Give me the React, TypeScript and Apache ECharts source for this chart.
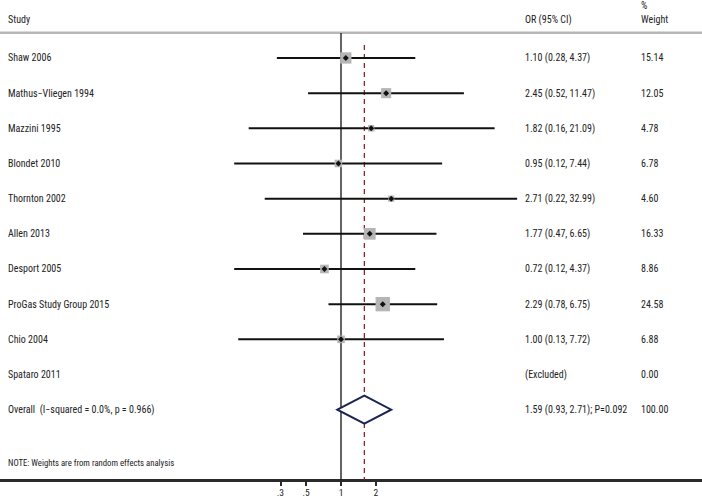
import React, { useEffect, useRef } from 'react';
import * as echarts from 'echarts';

const studies = [
  'Shaw 2006',
  'Mathus\u2212Vliegen 1994',
  'Mazzini 1995',
  'Blondet 2010',
  'Thornton 2002',
  'Allen 2013',
  'Desport 2005',
  'ProGas Study Group 2015',
  'Chio 2004',
  'Spataro 2011',
];
const oddsRatios: (number | null)[] = [1.1, 2.45, 1.82, 0.95, 2.71, 1.77, 0.72, 2.29, 1.0, null];
const lowerCI: (number | null)[] = [0.28, 0.52, 0.16, 0.12, 0.22, 0.47, 0.12, 0.78, 0.13, null];
const upperCI: (number | null)[] = [4.37, 11.47, 21.09, 7.44, 32.99, 6.65, 4.37, 6.75, 7.72, null];
const weights = [15.14, 12.05, 4.78, 6.78, 4.6, 16.33, 8.86, 24.58, 6.88, 0.0];

const overallLabel = 'Overall  (I\u2212squared = 0.0%, p = 0.966)';
const overallOR = 1.59;
const overallLo = 0.93;
const overallHi = 2.71;
const overallP = '0.092';
const overallWeight = 100.0;

const tickValues = [0.3, 0.5, 1, 2];
const tickLabels = ['.3', '.5', '1', '2'];

const noteText = 'NOTE: Weights are from random effects analysis';

const L = (v: number) => Math.log10(v);

export default function App() {
  const ref = useRef<HTMLDivElement>(null);

  useEffect(() => {
    const chart = echarts.init(ref.current!, null, { renderer: 'svg' });
    const FONT = "'Liberation Sans Narrow', 'Roboto Condensed', 'Liberation Sans', sans-serif";
    const TXT = '#222';
    const FS = 10;
    const XMIN = -341 / 116;
    const XMAX = 361 / 116;

    const ciData: number[][] = [];
    studies.forEach((_, i) => {
      const o = oddsRatios[i];
      const lo = lowerCI[i];
      const hi = upperCI[i];
      if (o != null && lo != null && hi != null) {
        ciData.push([i, L(lo), L(o), L(hi), weights[i]]);
      }
    });

    const overallRow = studies.length;

    const tableRows: { y: number; a: string; b: string; c: string }[] = studies.map((s, i) => {
      const o = oddsRatios[i];
      const lo = lowerCI[i];
      const hi = upperCI[i];
      const b = o != null && lo != null && hi != null
        ? `${o.toFixed(2)} (${lo.toFixed(2)}, ${hi.toFixed(2)})`
        : '(Excluded)';
      return { y: i, a: s, b, c: weights[i].toFixed(2) };
    });
    tableRows.push({
      y: overallRow,
      a: overallLabel,
      b: `${overallOR.toFixed(2)} (${overallLo.toFixed(2)}, ${overallHi.toFixed(2)}); P=${overallP}`,
      c: overallWeight.toFixed(2),
    });

    const tickLogs = tickValues.map(L);
    const fmt = (v: number) => {
      const idx = tickLogs.findIndex((t) => Math.abs(t - v) < 1e-6);
      return idx >= 0 ? tickLabels[idx] : '';
    };

    const option: any = {
      animation: false,
      backgroundColor: '#fff',
      grid: { left: 0, right: 0, top: 33, bottom: 21, containLabel: false },
      xAxis: {
        type: 'value',
        min: XMIN,
        max: XMAX,
        position: 'bottom',
        axisLine: { show: true, onZero: false, lineStyle: { color: '#2a2a2a', width: 3 } },
        axisTick: { show: true, customValues: tickLogs, length: 6, lineStyle: { color: '#2a2a2a', width: 2 } },
        axisLabel: { show: true, customValues: tickLogs, formatter: fmt, fontSize: 9.5, color: TXT, fontFamily: FONT, margin: 7 },
        splitLine: { show: false },
      },
      yAxis: {
        type: 'value',
        inverse: true,
        min: -0.71,
        max: 12,
        axisLine: { show: false },
        axisTick: { show: false },
        axisLabel: { show: false },
        splitLine: { show: false },
      },
      graphic: [
        { type: 'rect', shape: { x: 0, y: 31.5, width: 702, height: 2.5 }, style: { fill: '#b8b8b8' } },
        { type: 'text', left: 8, top: 14, style: { text: 'Study', fontSize: FS, fill: TXT, fontFamily: FONT } },
        { type: 'text', left: 525, top: 14, style: { text: 'OR (95% CI)', fontSize: FS, fill: TXT, fontFamily: FONT } },
        { type: 'text', left: 641, top: 0, style: { text: '%', fontSize: FS, fill: TXT, fontFamily: FONT } },
        { type: 'text', left: 641, top: 14, style: { text: 'Weight', fontSize: FS, fill: TXT, fontFamily: FONT } },
        { type: 'text', left: 8, top: 458, style: { text: noteText, fontSize: 8.7, fill: TXT, fontFamily: FONT } },
      ],
      series: [
        {
          type: 'line',
          name: 'null',
          data: [[0, -0.71], [0, 12]],
          symbol: 'none',
          lineStyle: { color: '#111', width: 1.3 },
          z: 1,
        },
        {
          type: 'line',
          name: 'pooled',
          data: [[L(overallOR), -0.37], [L(overallOR), 12]],
          symbol: 'none',
          lineStyle: { color: '#8b2232', width: 1.3, type: [5, 4] },
          z: 2,
        },
        {
          type: 'custom',
          name: 'ci',
          data: ciData,
          encode: { x: [1, 2, 3], y: 0 },
          z: 3,
          renderItem: (params: any, api: any) => {
            const row = api.value(0);
            const pLo = api.coord([api.value(1), row]);
            const pOr = api.coord([api.value(2), row]);
            const pHi = api.coord([api.value(3), row]);
            const s = 2.9 * Math.sqrt(api.value(4));
            const d = 3;
            return {
              type: 'group',
              children: [
                { type: 'line', shape: { x1: pLo[0], y1: pLo[1], x2: pHi[0], y2: pHi[1] }, style: { stroke: '#111', lineWidth: 2 } },
                { type: 'rect', shape: { x: pOr[0] - s / 2, y: pOr[1] - s / 2, width: s, height: s }, style: { fill: '#b5b5b5' } },
                {
                  type: 'polygon',
                  shape: { points: [[pOr[0] - d, pOr[1]], [pOr[0], pOr[1] - d], [pOr[0] + d, pOr[1]], [pOr[0], pOr[1] + d]] },
                  style: { fill: '#111' },
                },
              ],
            };
          },
        },
        {
          type: 'custom',
          name: 'overall',
          data: [[overallRow, L(overallLo), L(overallOR), L(overallHi)]],
          encode: { x: [1, 2, 3], y: 0 },
          z: 4,
          renderItem: (params: any, api: any) => {
            const row = api.value(0);
            const a = api.coord([api.value(1), row]);
            const top = api.coord([api.value(2), row - 0.4]);
            const b = api.coord([api.value(3), row]);
            const bot = api.coord([api.value(2), row + 0.4]);
            return {
              type: 'polygon',
              shape: { points: [a, top, b, bot] },
              style: { fill: '#fff', stroke: '#1b2452', lineWidth: 2 },
            };
          },
        },
        {
          type: 'custom',
          name: 'table',
          data: tableRows.map((r) => [r.y]),
          encode: { y: 0 },
          z: 5,
          silent: true,
          renderItem: (params: any, api: any) => {
            const r = tableRows[params.dataIndex];
            const y = api.coord([0, api.value(0)])[1];
            const st = (text: string, x: number) => ({
              type: 'text',
              x,
              y,
              style: { text, fontSize: FS, fill: TXT, fontFamily: FONT, textVerticalAlign: 'middle', verticalAlign: 'middle', align: 'left' },
            });
            return {
              type: 'group',
              children: [st(r.a, 8), st(r.b, 525), st(r.c, 641)],
            };
          },
        },
      ],
    };

    chart.setOption(option);
    return () => chart.dispose();
  }, []);

  return <div ref={ref} style={{ position: 'fixed', left: 0, top: 0, width: 702, height: 501 }} />;
}
